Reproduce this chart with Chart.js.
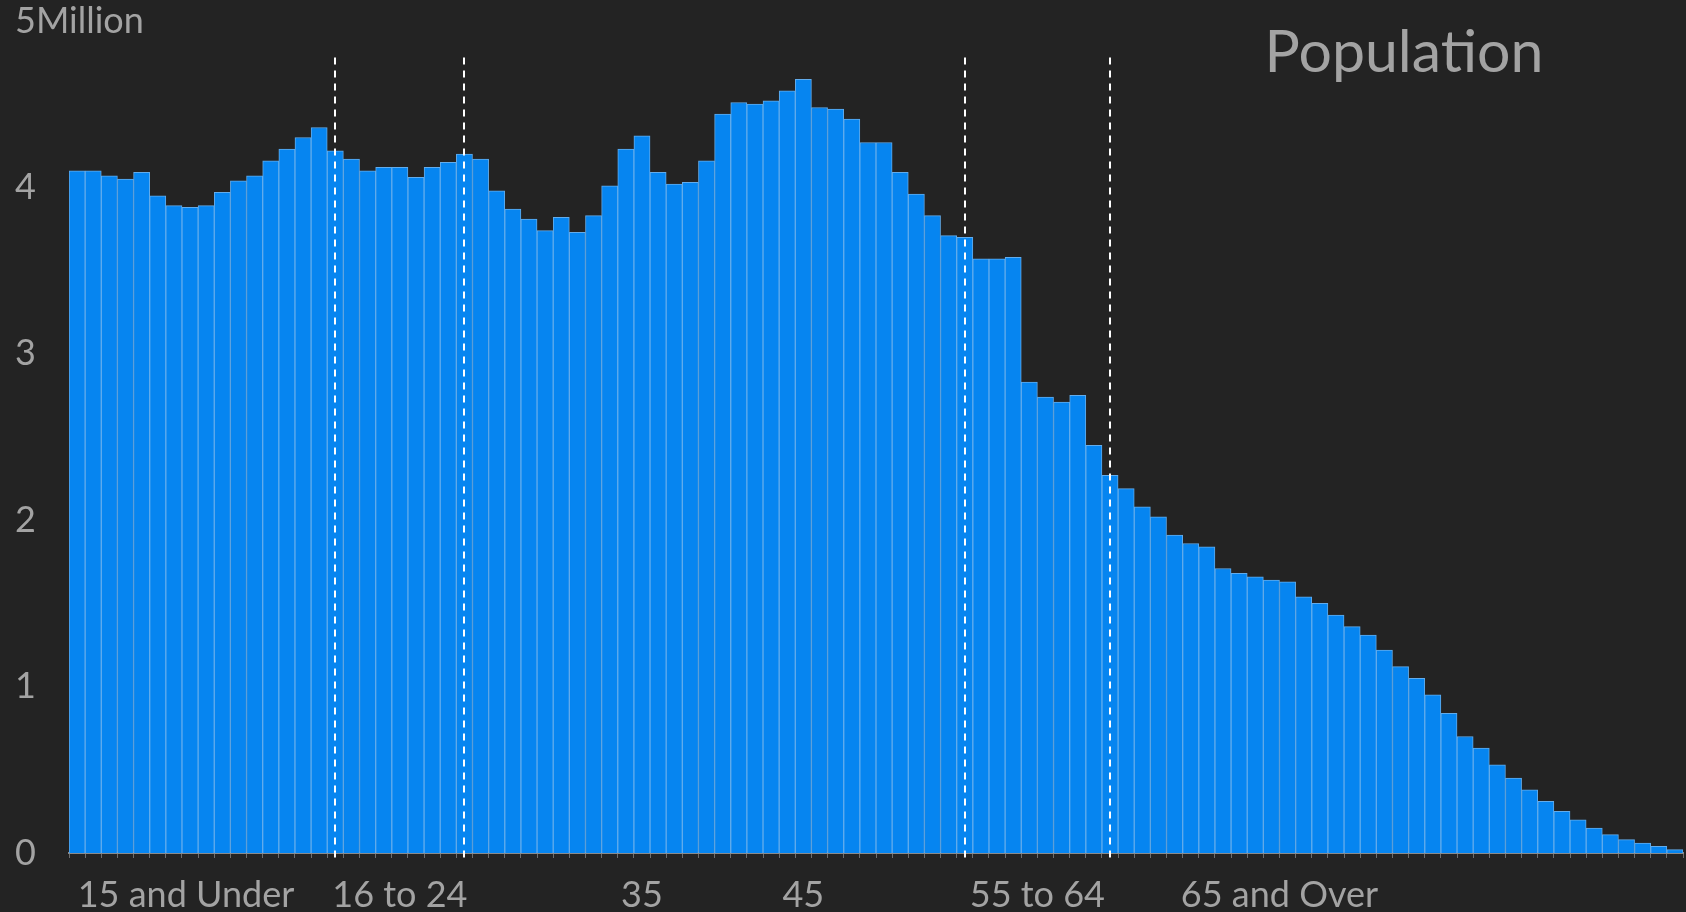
<!DOCTYPE html>
<html>
<head>
<meta charset="utf-8">
<script src="https://cdn.jsdelivr.net/npm/chart.js@4/dist/chart.umd.min.js"></script>
<style>
	html, body { margin: 0; padding: 0; background: #232323; overflow: hidden; }
	#wrap { width: 1686px; height: 912px; position: relative; }
</style>
</head>
<body>
<div id="wrap"><canvas id="popChart"></canvas></div>
<script>
// 年齢（1歳刻み）
const ages = [
	0, 1, 2, 3, 4, 5, 6, 7, 8, 9,
	10, 11, 12, 13, 14, 15, 16, 17, 18, 19,
	20, 21, 22, 23, 24, 25, 26, 27, 28, 29,
	30, 31, 32, 33, 34, 35, 36, 37, 38, 39,
	40, 41, 42, 43, 44, 45, 46, 47, 48, 49,
	50, 51, 52, 53, 54, 55, 56, 57, 58, 59,
	60, 61, 62, 63, 64, 65, 66, 67, 68, 69,
	70, 71, 72, 73, 74, 75, 76, 77, 78, 79,
	80, 81, 82, 83, 84, 85, 86, 87, 88, 89,
	90, 91, 92, 93, 94, 95, 96, 97, 98, 99
];
// 人口（百万人）
const population = [
	4.10, 4.10, 4.07, 4.05, 4.09, 3.95, 3.89, 3.88, 3.89, 3.97,
	4.04, 4.07, 4.16, 4.23, 4.30, 4.36, 4.22, 4.17, 4.10, 4.12,
	4.12, 4.06, 4.12, 4.15, 4.20, 4.17, 3.98, 3.87, 3.81, 3.74,
	3.82, 3.73, 3.83, 4.01, 4.23, 4.31, 4.09, 4.02, 4.03, 4.16,
	4.44, 4.51, 4.50, 4.52, 4.58, 4.65, 4.48, 4.47, 4.41, 4.27,
	4.27, 4.09, 3.96, 3.83, 3.71, 3.70, 3.57, 3.57, 3.58, 2.83,
	2.74, 2.71, 2.75, 2.45, 2.27, 2.19, 2.08, 2.02, 1.91, 1.86,
	1.84, 1.71, 1.68, 1.66, 1.64, 1.63, 1.54, 1.50, 1.43, 1.36,
	1.31, 1.22, 1.12, 1.05, 0.95, 0.84, 0.70, 0.63, 0.53, 0.45,
	0.38, 0.31, 0.25, 0.20, 0.15, 0.11, 0.08, 0.06, 0.04, 0.02
];
// X軸ラベルとその位置（年齢）
const groupLabels = ['15 and Under', '16 to 24', '35', '45', '55 to 64', '65 and Over'];
const groupLabelAt = [6.75, 20, 35, 45, 59.5, 74.5];
// 区切りの破線（年齢）
const groupBreaks = [16, 24, 55, 64];
const breakTop = 4.78;
// Y軸ラベル
const yTickLabels = ['0', '1', '2', '3', '4', '5Million'];

const TEXT = '#a3a3a3';
const FONT = 'Lato, "Noto Sans", sans-serif';

// 破線とタイトル
const overlayPlugin = {
	id: 'overlay',
	afterDraw(chart) {
		const { ctx, chartArea, scales } = chart;
		const x = scales.x, y = scales.y;
		ctx.save();
		ctx.strokeStyle = '#ffffff';
		ctx.lineWidth = 2;
		ctx.setLineDash([7, 6]);
		groupBreaks.forEach(age => {
			const px = Math.round(x.getPixelForValue(age));
			ctx.beginPath();
			ctx.moveTo(px, y.getPixelForValue(breakTop));
			ctx.lineTo(px, chartArea.bottom + 9);
			ctx.stroke();
		});
		ctx.setLineDash([]);
		ctx.fillStyle = TEXT;
		ctx.font = '59px ' + FONT;
		ctx.textAlign = 'center';
		ctx.textBaseline = 'alphabetic';
		ctx.fillText('Population', chart.width - 282, 72);
		ctx.restore();
	}
};

new Chart(document.getElementById('popChart'), {
	type: 'bar',
	data: {
		datasets: [{
			label: 'Population',
			data: ages.map((a, i) => ({ x: a, y: population[i] })),
			backgroundColor: '#0685f0',
			borderColor: '#62acec',
			borderWidth: 1,
			barThickness: 'flex',
			barPercentage: 1,
			categoryPercentage: 1
		}]
	},
	options: {
		responsive: true,
		maintainAspectRatio: false,
		animation: false,
		layout: { padding: { left: 15, right: 3, top: 21, bottom: 0 } },
		plugins: {
			legend: { display: false },
			tooltip: { enabled: false }
		},
		scales: {
			x: {
				type: 'linear',
				min: ages[0] - 0.5,
				max: ages[ages.length - 1] + 0.5,
				offset: false,
				z: 1,
				afterBuildTicks: (scale) => {
					const vals = ages.map(a => a - 0.5).concat([ages[ages.length - 1] + 0.5]);
					groupLabelAt.forEach(v => { if (!vals.includes(v)) vals.push(v); });
					vals.sort((a, b) => a - b);
					scale.ticks = vals.map(v => ({ value: v }));
				},
				afterFit: (scale) => {
					scale.height = 59;
					scale.paddingLeft = 0;
					scale.paddingRight = 0;
				},
				border: { display: true, color: '#8a8a8a', width: 2 },
				grid: {
					offset: false,
					drawOnChartArea: false,
					tickLength: 5,
					tickColor: (c) => (c.tick && Number.isInteger(c.tick.value + 0.5)) ? '#6e6e6e' : 'rgba(0,0,0,0)'
				},
				ticks: {
					autoSkip: false,
					maxRotation: 0,
					minRotation: 0,
					padding: 19,
					color: TEXT,
					font: { family: FONT, size: 36, lineHeight: 1 },
					callback: function(value) {
						const i = groupLabelAt.indexOf(value);
						return i >= 0 ? groupLabels[i] : '';
					}
				}
			},
			y: {
				min: 0,
				max: 5,
				afterFit: (scale) => { scale.width = 54; },
				border: { display: false },
				grid: { display: false },
				ticks: {
					stepSize: 1,
					mirror: true,
					crossAlign: 'near',
					padding: -54,
					color: TEXT,
					font: { family: FONT, size: 36, lineHeight: 1 },
					callback: (value, index) => yTickLabels[index]
				}
			}
		}
	},
	plugins: [overlayPlugin]
});
</script>
</body>
</html>
